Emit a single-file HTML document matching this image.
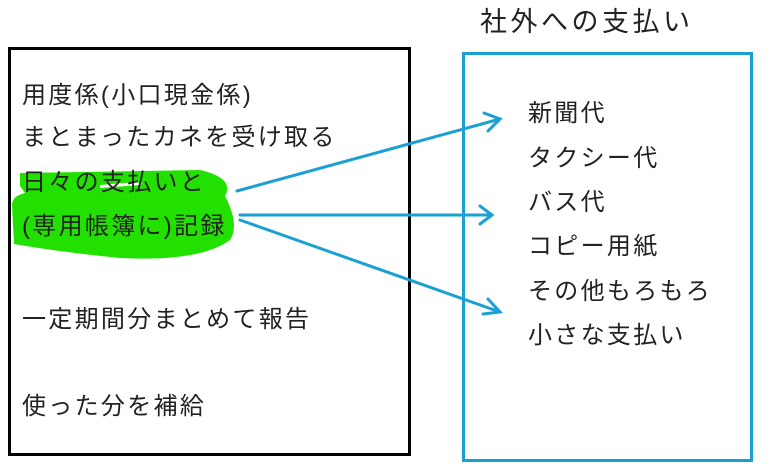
<!DOCTYPE html>
<html><head><meta charset="utf-8"><style>
body{margin:0;background:#fff}
svg{display:block}
text{font-family:"Liberation Sans","Noto Sans CJK JP",sans-serif;font-size:24px;letter-spacing:2.3px;fill:#222}
</style></head><body>
<svg width="770" height="474" viewBox="0 0 770 474" xmlns="http://www.w3.org/2000/svg">
<rect x="9.5" y="48.5" width="400" height="406" fill="none" stroke="#000" stroke-width="3"/>
<rect x="463.5" y="53.5" width="288" height="407" fill="none" stroke="#1aa0d2" stroke-width="3"/>
<text x="480" y="31" style="font-size:27px;letter-spacing:3.5px">社外への支払い</text>
<path d="M20,173 L200,170 Q235,178 225,196 Q240,225 230,240 Q200,262 120,258 Q60,252 14,244 L12,205 Q12,196 25,193 L20,186 Z" fill="#22e000"/>
<path d="M100,185 Q150,180 140,185 L100,188 Z" fill="#fff"/>
<text x="22" y="103">用度係(小口現金係)</text>
<text x="22" y="145">まとまったカネを受け取る</text>
<text x="22" y="190">日々の支払いと</text>
<text x="22" y="234">(専用帳簿に)記録</text>
<text x="22" y="327">一定期間分まとめて報告</text>
<text x="22" y="414">使った分を補給</text>
<text x="528" y="121">新聞代</text>
<text x="528" y="166">タクシー代</text>
<text x="528" y="210">バス代</text>
<text x="528" y="254">コピー用紙</text>
<text x="528" y="299">その他もろもろ</text>
<text x="528" y="343">小さな支払い</text>
<g stroke="#1aa0d2" stroke-width="3" fill="none" stroke-linecap="round">
<line x1="237" y1="191" x2="500" y2="119"/>
<polyline points="484,113 500,119 488,131"/>
<line x1="240" y1="215" x2="492" y2="215"/>
<polyline points="480,206 492,215 480,224"/>
<line x1="240" y1="220" x2="500" y2="312"/>
<polyline points="488,299 500,312 483,314"/>
</g>
</svg>
</body></html>
